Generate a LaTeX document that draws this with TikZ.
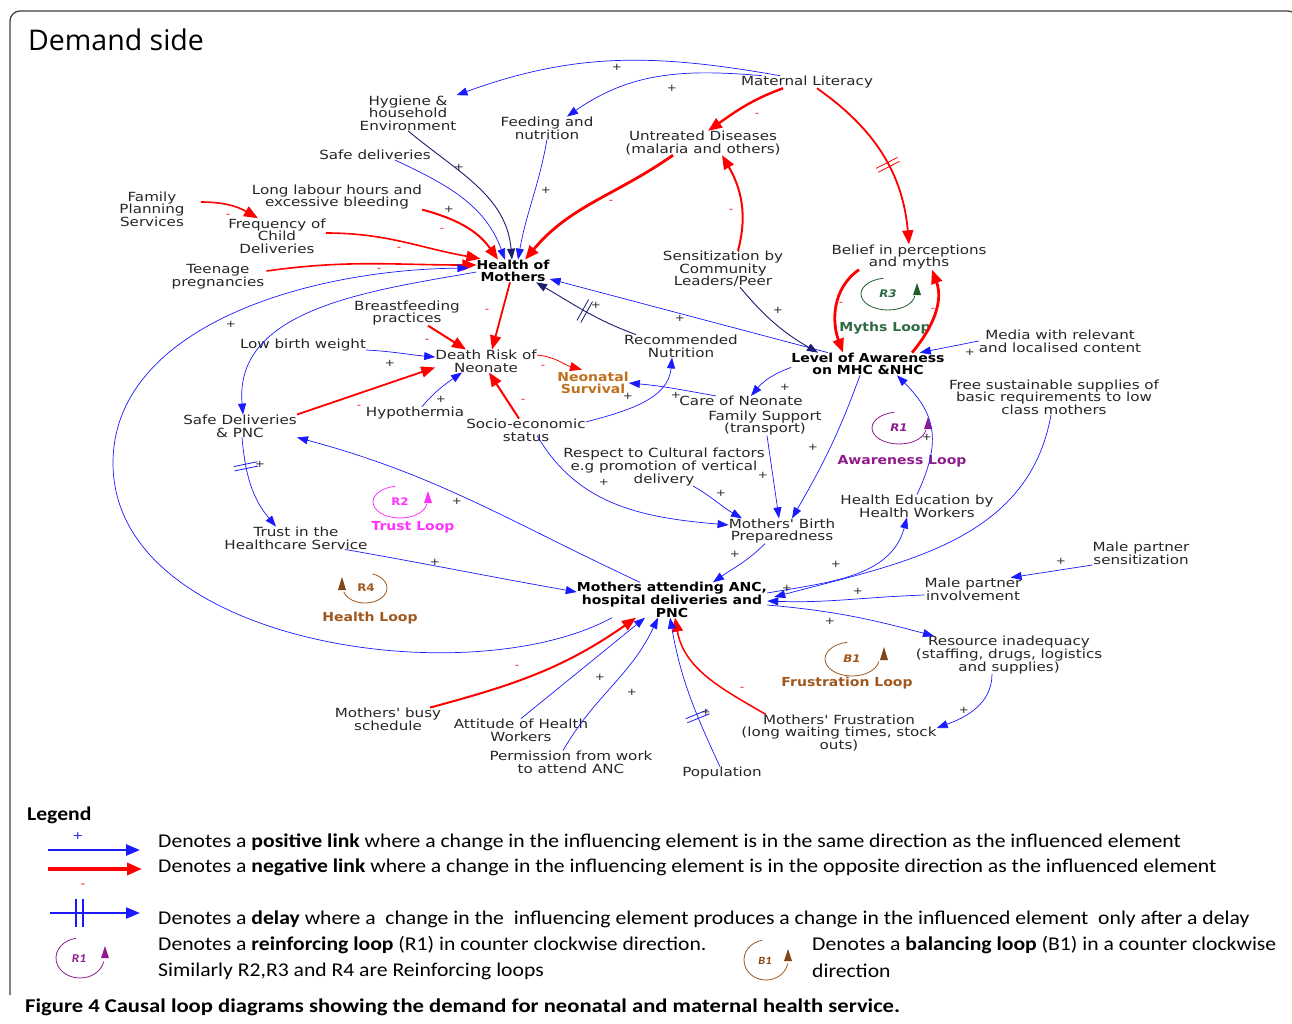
\documentclass[tikz,border=0pt]{standalone}
\usepackage{fontspec}
\setmainfont{DejaVu Sans}
\newfontfamily\labf{DejaVu Sans}[FakeStretch=1.2]
\newfontfamily\labbf{DejaVu Sans}[FakeStretch=1.13]
\newfontfamily\legf{Carlito}[FakeStretch=1.11]
\newfontfamily\capf{Carlito}[FakeStretch=1.16]
\newfontfamily\titf{Open Sans}
\usetikzlibrary{arrows.meta,decorations.markings}
\definecolor{cblue}{HTML}{1A1AFF}
\definecolor{cnavy}{HTML}{1C1C70}
\definecolor{cred}{HTML}{FF0000}
\definecolor{cns}{HTML}{C0701E}
\definecolor{cmyth}{HTML}{2E6B45}
\definecolor{cgrn}{HTML}{1F5F2A}
\definecolor{cpur}{HTML}{8E1A8E}
\definecolor{cmag}{HTML}{FF33FF}
\definecolor{cbrn}{HTML}{A0581E}
\tikzset{
  lab/.style={font=\labf\fontsize{12.6}{12.7}\selectfont, align=center, inner sep=0pt, text=black!85},
  blab/.style={font=\labbf\bfseries\fontsize{12.4}{12.7}\selectfont, align=center, inner sep=0pt},
  looptxt/.style={font=\labbf\bfseries\fontsize{10.5}{11}\selectfont, inner sep=0pt},
  pl/.style={draw=cblue, line width=0.7pt, -{Triangle[length=11pt,width=8pt]}},
  nv/.style={draw=cnavy, line width=0.9pt, -{Triangle[length=11pt,width=8pt]}},
  nl/.style={draw=cred, line width=1.8pt, -{Triangle[length=14pt,width=11pt]}},
  sgp/.style={font=\labf\fontsize{10}{10}\selectfont, inner sep=0pt, text=black!85},
  sgm/.style={font=\labf\fontsize{10}{10}\selectfont, inner sep=0pt, text=cred},
  delaymk/.style={postaction={decorate,decoration={markings,
     mark=at position #1 with {\draw[-,line width=0.8pt] (-2.2,-12)--(-2.2,12) (2.2,-12)--(2.2,12);}}}},
  legtxt/.style={font=\legf\fontsize{19.5}{20}\selectfont, anchor=west, inner sep=0pt},
}
\begin{document}
\begin{tikzpicture}[x=1pt,y=1pt]
\useasboundingbox (0,0) rectangle (1292,-1023);
\clip (0,0) rectangle (1292,-1023);
\fill[white] (0,0) rectangle (1292,-1023);
% frame
\draw[black!75, line width=1.3pt, rounded corners=10pt] (10,-995) -- (10,-11) -- (1298,-11) -- (1298,-995);
\node[font=\titf\fontsize{28.5}{28.5}\selectfont, anchor=west, inner sep=0pt] (title) at (28,-40) {Demand side};

% ---------- nodes ----------
\node[lab] (hy) at (408,-113) {Hygiene \&\\household\\Environment};
\node[lab] (fn) at (547,-128) {Feeding and\\nutrition};
\node[lab] (ml) at (807,-82) {Maternal Literacy};
\node[lab] (ud) at (703,-143) {Untreated Diseases\\(malaria and others)};
\node[lab] (sd) at (375,-155) {Safe deliveries};
\node[lab] (fp) at (152,-209) {Family\\Planning\\Services};
\node[lab] (ll) at (337,-197) {Long labour hours and\\excessive bleeding};
\node[lab] (fc) at (277,-236) {Frequency of\\Child\\Deliveries};
\node[lab] (tp) at (218,-277) {Teenage\\pregnancies};
\node[blab] (hm) at (513,-271) {Health of\\Mothers};
\node[lab] (sc) at (723,-269) {Sensitization by\\Community\\Leaders/Peer};
\node[lab] (bp) at (909,-257) {Belief in perceptions\\and myths};
\node[lab] (bf) at (407,-313) {Breastfeeding\\practices};
\node[lab] (rn) at (681,-346) {Recommended\\Nutrition};
\node[lab] (md) at (1060,-341) {Media with relevant\\and localised content};
\node[blab] (la) at (868,-364) {Level of Awareness\\on MHC \&NHC};
\node[lab] (lb) at (303,-345) {Low birth weight};
\node[lab] (dr) at (486,-361) {Death Risk of\\Neonate};
\node[blab, text=cns] (ns) at (593,-383) {Neonatal\\Survival};
\node[lab] (fs) at (1054,-397) {Free sustainable supplies of\\basic requirements to low\\class mothers};
\node[lab] (cn) at (741,-401) {Care of Neonate};
\node[lab] (ht) at (415,-413) {Hypothermia};
\node[lab] (sdp) at (240,-426) {Safe Deliveries\\\& PNC};
\node[lab] (fsu) at (765,-423) {Family Support\\(transport)};
\node[lab] (se) at (526,-430) {Socio-economic\\status};
\node[lab] (rc) at (664,-467) {Respect to Cultural factors\\e.g promotion of vertical\\delivery};
\node[lab] (he) at (917,-506) {Health Education by\\Health Workers};
\node[lab] (bprep) at (782,-531) {Mothers' Birth\\Preparedness};
\node[lab] (tr) at (296,-538) {Trust in the\\Healthcare Service};
\node[lab] (mps) at (1141,-553) {Male partner\\sensitization};
\node[blab] (ma) at (672,-600) {Mothers attending ANC,\\hospital deliveries and\\PNC};
\node[lab] (mpi) at (973,-589) {Male partner\\involvement};
\node[lab] (ri) at (1009,-655) {Resource inadequacy\\(staffing, drugs, logistics\\and supplies)};
\node[lab] (mb) at (388,-719) {Mothers' busy\\schedule};
\node[lab] (ah) at (521,-730) {Attitude of Health\\Workers};
\node[lab] (mf) at (839,-733) {Mothers' Frustration\\(long waiting times, stock\\outs)};
\node[lab] (pw) at (571,-762) {Permission from work\\to attend ANC};
\node[lab] (po) at (722,-773) {Population};

% loop names
\node[blab, text=cmyth] (myl) at (885,-328) {Myths Loop};
\node[blab, text=cpur] (awl) at (902,-461) {Awareness Loop};
\node[blab, text=cmag] (trl) at (413,-527) {Trust Loop};
\node[blab, text=cbrn] (hel) at (370,-618) {Health Loop};
\node[blab, text=cbrn] (frl) at (847,-683) {Frustration Loop};

% loop symbols
\draw[cgrn, line width=0.8pt] (888,-294) ++(100:27 and 16) arc[start angle=100, end angle=352, x radius=27, y radius=16];
\fill[cgrn] (913,-295) -- (921,-295) -- (917,-283) -- cycle;
\node[looptxt, text=cmyth] (r3) at (888,-294) {\itshape R3};
\draw[cpur, line width=0.8pt] (899,-428) ++(100:27 and 16) arc[start angle=100, end angle=352, x radius=27, y radius=16];
\fill[cpur] (924,-429) -- (932,-429) -- (928,-417) -- cycle;
\node[looptxt, text=cpur] (r1) at (899,-428) {\itshape R1};
\draw[cmag, line width=0.8pt] (400,-502) ++(100:27 and 16) arc[start angle=100, end angle=352, x radius=27, y radius=16];
\fill[cmag] (424,-503) -- (432,-503) -- (428,-491) -- cycle;
\node[looptxt, text=cmag] (r2) at (400,-502) {R2};
\draw[cbrn, line width=0.8pt] (365,-588) ++(70:22 and 15) arc[start angle=70, end angle=-165, x radius=22, y radius=15];
\fill[cbrn!80!black] (338,-590) -- (346,-590) -- (342,-577) -- cycle;
\node[looptxt, text=cbrn] (r4) at (366,-588) {R4};
\draw[cbrn, line width=0.8pt] (852,-659) ++(100:27 and 17) arc[start angle=100, end angle=352, x radius=27, y radius=17];
\fill[cbrn!80!black] (880,-660) -- (888,-660) -- (884,-647) -- cycle;
\node[looptxt, text=cbrn] (b1) at (852,-659) {\itshape B1};

% ---------- connectors ----------
\draw[pl] ([xshift=-27]ml.north) to[out=170,in=20] (hy.north east);
\draw[pl] ([xshift=-45]ml.north) to[out=175,in=35] ([xshift=20]fn.north);
\draw[nl, line width=2.4pt] ([xshift=-24]ml.south) to[out=200,in=35] ([xshift=5]ud.north);
\draw[nl, delaymk=0.56] ([xshift=10]ml.south) to[out=-35,in=95] (bp.north);
\draw[nl, line width=2.8pt] ([xshift=-30]ud.south) to[out=215,in=50] ([xshift=12]hm.north);
\draw[nl, line width=2pt] ([xshift=15]sc.north) to[out=75,in=-60] ([xshift=19]ud.south);
\draw[nv] (hy.south) to[out=-40,in=95] ([xshift=-1]hm.north);
\draw[pl] (fn.south) to[out=-100,in=80] ([xshift=5]hm.north);
\draw[pl] ([xshift=20]sd.south) to[out=-25,in=110] ([xshift=-8]hm.north);
\draw[nl, line width=2pt] (ll.south east) to[out=-15,in=125] ([xshift=-15]hm.north);
\draw[nl, line width=1.6pt] ([xshift=16,yshift=7]fp.east) to[out=0,in=150] ([xshift=-19]fc.north);
\draw[nl, line width=1.6pt] ([yshift=3]fc.east) to[out=0,in=170] ([xshift=4,yshift=1]hm.north west);
\draw[nl, line width=1.6pt] ([xshift=2,yshift=6]tp.east) to[out=8,in=180] ([yshift=6]hm.west);
\draw[pl] ([yshift=-1]hm.west) to[out=190,in=95] ([xshift=3]sdp.north);
\draw[pl] ([xshift=-60]ma.south) .. controls (470,-695) and (113,-645) .. (113,-463)
   .. controls (113,-330) and (300,-270) .. ([xshift=-8,yshift=3]hm.west);
\draw[nl] ([xshift=-3]hm.south) -- ([xshift=6]dr.north);
\draw[nl, line width=2pt] ([xshift=21]bf.south) -- ([xshift=-20]dr.north);
\draw[pl] ([yshift=-5]lb.east) to[out=-3,in=175] ([yshift=4]dr.west);
\draw[nl] (sdp.north east) -- ([yshift=5]dr.south west);
\draw[pl] ([xshift=7]ht.north) to[out=50,in=215] ([xshift=-24]dr.south);
\draw[nl, line width=2pt] ([xshift=-7]se.north) -- ([xshift=3]dr.south);
\draw[draw=cred, line width=0.8pt, -{Triangle[length=12pt,width=9pt]}] ([yshift=6]dr.east) to[out=-5,in=165] ([xshift=-11,yshift=2]ns.north);
\draw[pl] ([yshift=8]se.east) to[out=15,in=-95] ([xshift=-9]rn.south);
\draw[pl] ([xshift=11,yshift=6]se.south) to[out=-60,in=175] ([yshift=6]bprep.west);
\draw[nv, delaymk=0.5] ([xshift=12]rn.north west) to[out=160,in=-30] ([xshift=23]hm.south);
\draw[pl] ([xshift=-40]la.north) -- ([yshift=-8]hm.east);
\draw[nv] ([xshift=17]sc.south) to[out=-50,in=150] ([xshift=-50]la.north);
\draw[nl, line width=2.8pt] ([xshift=-50]bp.south) to[out=215,in=110] ([xshift=-25]la.north);
\draw[nl, line width=2.8pt] ([xshift=44]la.north) to[out=50,in=-70] ([xshift=23]bp.south);
\draw[pl] (md.west) -- ([xshift=-25]la.north east);
\draw[pl] ([yshift=8]la.south west) to[out=200,in=50] ([xshift=10]cn.north);
\draw[pl] ([xshift=-25]cn.north) to[out=170,in=-5] (ns.east);
\draw[pl] ([xshift=-8]la.south) to[out=-110,in=60] ([xshift=10]bprep.north);
\draw[pl] ([xshift=2]fsu.south) -- ([xshift=-3]bprep.north);
\draw[pl] ([xshift=29]rc.south) to[out=-30,in=150] ([xshift=-40]bprep.north);
\draw[pl] ([xshift=-17]bprep.south) to[out=-135,in=35] ([xshift=41]ma.north);
\draw[pl] ([yshift=7]ma.east) to[out=10,in=-105] ([xshift=-10]he.south);
\draw[pl] ([xshift=-3]fs.south) to[out=-100,in=15] ([xshift=7,yshift=3]ma.east);
\draw[pl] (he.north) to[out=65,in=-45,looseness=1.2] ([xshift=29]la.south);
\draw[pl] ([yshift=-12]mps.west) -- ([xshift=-11]mpi.north east);
\draw[pl] ([yshift=-6]mpi.west) to[out=182,in=-2] ([yshift=-1]ma.east);
\draw[pl] ([yshift=-5]ma.east) to[out=-5,in=165] ([xshift=-75]ri.north);
\draw[pl] ([xshift=-17]ri.south) to[out=-90,in=20] ([yshift=5]mf.east);
\draw[nl, line width=1.5pt] ([xshift=-73]mf.north) to[out=150,in=-80] ([xshift=3]ma.south);
\draw[nl, line width=2pt] ([xshift=42]mb.north) to[out=15,in=-145] ([xshift=-36]ma.south);
\draw[pl] (ah.north) -- ([xshift=-27]ma.south);
\draw[pl] ([xshift=-8]pw.north) to[out=60,in=-115] ([xshift=-14]ma.south);
\draw[pl, delaymk=0.35] ([xshift=-2]po.north) to[out=115,in=-80] ([xshift=-2]ma.south);
\draw[pl] ([xshift=-32]ma.north) to[out=155,in=-15] ([xshift=57]sdp.south);
\draw[pl, delaymk=0.3] ([xshift=2]sdp.south) to[out=-85,in=130] ([xshift=-20]tr.north);
\draw[pl] ([xshift=49]tr.south) to[out=-10,in=170] ([yshift=8]ma.west);

% ---------- signs ----------
\foreach \x/\y [count=\i] in {617/67,672/88,459/167,546/190,449/209,231/324,390/363,441/399,596/305,680/318,778/310,628/396,676/395,785/387,813/447,763/475,604/482,721/493,457/501,260/464,435/562,735/554,836/564,787/588,858/591,1061/561,830/621,964/710,600/677,632/692,706/712,927/437,970/352}
  \node[sgp] (p\i) at (\x,-\y) {+};
\foreach \x/\y [count=\i] in {757/115,611/202,731/211,442/230,228/216,399/249,379/270,487/311,427/341,359/407,523/401,543/367,841/304,933/310,517/667,742/689}
  \node[sgm] (m\i) at (\x,-\y) {-};

% ---------- legend ----------
\node[font=\legf\bfseries\fontsize{19.5}{20}\selectfont, anchor=west, inner sep=0pt] (legt) at (27,-815) {Legend};
\coordinate (lg1a) at (48,-850); \coordinate (lg1b) at (140,-850);
\draw[draw=cblue, line width=2.6pt, -{Triangle[length=14pt,width=11pt]}] (lg1a) -- (lg1b);
\node[font=\labf\fontsize{11}{11}\selectfont, text=cblue, inner sep=0pt] (lgp) at (78,-836) {+};
\coordinate (lg2a) at (48,-869); \coordinate (lg2b) at (142,-869);
\draw[draw=cred, line width=3.4pt, -{Triangle[length=15pt,width=12pt]}] (lg2a) -- (lg2b);
\node[font=\labf\fontsize{11}{11}\selectfont, text=cred, inner sep=0pt] (lgm) at (83,-886) {-};
\coordinate (lg3a) at (50,-913); \coordinate (lg3b) at (140,-913);
\draw[draw=cblue, line width=2.4pt, -{Triangle[length=14pt,width=11pt]}] (lg3a) -- (lg3b);
\draw[cblue, line width=1.8pt] (76,-899) -- (76,-927) (83,-899) -- (83,-927);
\draw[cpur, line width=0.8pt] (80,-958) ++(100:24 and 20) arc[start angle=100, end angle=350, x radius=24, y radius=20];
\fill[cpur] (101,-958) -- (109,-958) -- (105,-946) -- cycle;
\node[font=\legf\bfseries\itshape\fontsize{12}{12}\selectfont, text=cpur, inner sep=0pt] (lr1) at (79,-959) {R1};
\draw[cbrn, line width=0.8pt] (766,-960) ++(100:22 and 20) arc[start angle=100, end angle=350, x radius=22, y radius=20];
\fill[cbrn!80!black] (784,-961) -- (792,-961) -- (788,-949) -- cycle;
\node[font=\legf\bfseries\itshape\fontsize{11}{11}\selectfont, text=cbrn!80!black, inner sep=0pt] (lb1) at (765,-961) {B1};

\node[legtxt] (lt1) at (158,-842) {Denotes a \textbf{positive link} where a change in the influencing element is in the same direction as the influenced element};
\node[legtxt] (lt2) at (158,-867) {Denotes a \textbf{negative link} where a change in the influencing element is in the opposite direction as the influenced element};
\node[legtxt] (lt3) at (158,-919) {Denotes a \textbf{delay} where a\ \ change in the\ \ influencing element produces a change in the influenced element\ \ only after a delay};
\node[legtxt] (lt4) at (158,-945) {Denotes a \textbf{reinforcing loop} (R1) in counter clockwise direction.};
\node[legtxt] (lt5) at (158,-971) {Similarly R2,R3 and R4 are Reinforcing loops};
\node[legtxt] (lt6) at (812,-945) {Denotes a \textbf{balancing loop} (B1) in a counter clockwise};
\node[legtxt] (lt7) at (812,-971) {direction};
\node[legtxt, font=\capf\bfseries\fontsize{19.5}{20}\selectfont] (cap) at (25,-1007) {Figure 4 Causal loop diagrams showing the demand for neonatal and maternal health service.};
\end{tikzpicture}
\end{document}
